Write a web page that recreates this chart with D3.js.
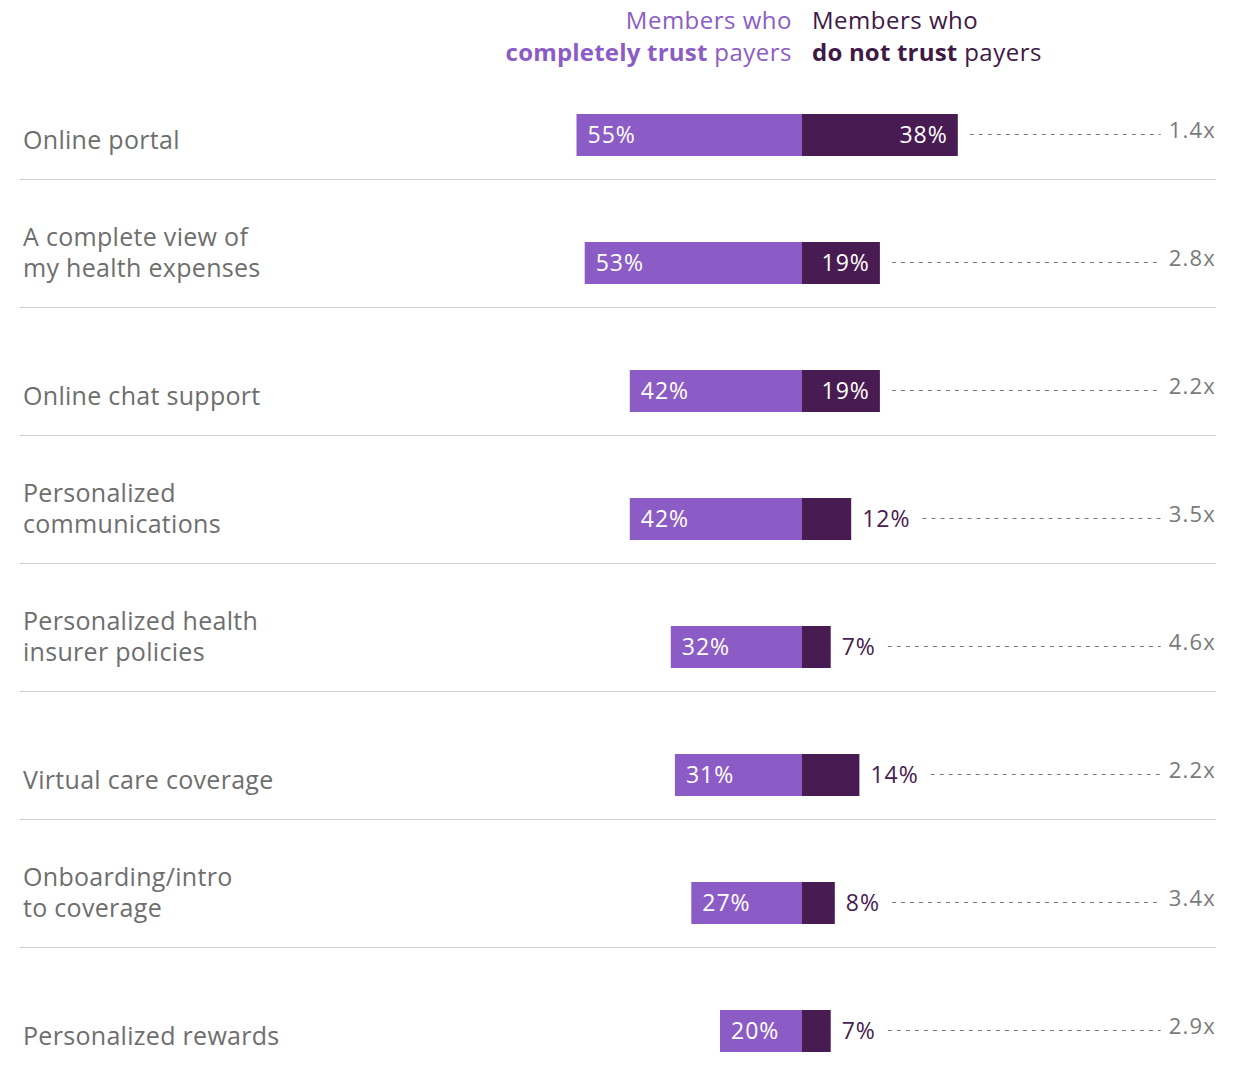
<!DOCTYPE html>
<html>
<head>
<meta charset="utf-8">
<script src="https://cdn.jsdelivr.net/npm/d3@7"></script>
<style>
  html, body { margin: 0; padding: 0; background: #fff; }
  svg { display: block; font-family: "Open Sans", "Noto Sans", sans-serif; }
</style>
</head>
<body>
<svg id="chart" width="1233" height="1070"></svg>
<script>
// Feature categories (label lines)
const categories = [
  ["Online portal"],
  ["A complete view of", "my health expenses"],
  ["Online chat support"],
  ["Personalized", "communications"],
  ["Personalized health", "insurer policies"],
  ["Virtual care coverage"],
  ["Onboarding/intro", "to coverage"],
  ["Personalized rewards"]
];
// Share of members who completely trust payers (%)
const trustValues = [55, 53, 42, 42, 32, 31, 27, 20];
// Share of members who do not trust payers (%)
const noTrustValues = [38, 19, 19, 12, 7, 14, 8, 7];
// Ratio labels
const ratios = ["1.4x", "2.8x", "2.2x", "3.5x", "4.6x", "2.2x", "3.4x", "2.9x"];

const LIGHT = "#8c5cc6";
const DARK = "#481b52";
const GRAY = "#6e6e6e";

const svg = d3.select("#chart");

// Bars diverge from a shared baseline
const x = d3.scaleLinear().domain([0, 100]).range([802, 1212]);
const xl = d3.scaleLinear().domain([0, 100]).range([802, 392]);

const rows = d3.range(categories.length);
const y = d3.scaleBand().domain(rows).range([71, 71 + 128 * rows.length]).paddingInner(0).paddingOuter(0);
const barH = 42;
const cy = i => y(i) + y.bandwidth() / 2;

// Header
const head = svg.append("g").attr("font-size", 24).attr("letter-spacing", 0.5);
const hl = head.append("text").attr("x", 792).attr("text-anchor", "end").attr("fill", LIGHT);
hl.append("tspan").attr("x", 792).attr("y", 29).text("Members who");
const hl2 = hl.append("tspan").attr("x", 792).attr("y", 61);
hl2.append("tspan").attr("font-weight", 700).attr("letter-spacing", 0.2).text("completely trust");
hl2.append("tspan").text(" payers");
const hr = head.append("text").attr("x", 812).attr("fill", "#3e1946");
hr.append("tspan").attr("x", 812).attr("y", 29).text("Members who");
const hr2 = hr.append("tspan").attr("x", 812).attr("y", 61);
hr2.append("tspan").attr("font-weight", 700).attr("letter-spacing", 0.2).text("do not trust");
hr2.append("tspan").text(" payers");

// Row separators
svg.append("g").selectAll("line")
  .data(rows.slice(0, -1))
  .join("line")
  .attr("x1", 20).attr("x2", 1216)
  .attr("y1", i => y(i) + y.bandwidth() - 20 + 0.5)
  .attr("y2", i => y(i) + y.bandwidth() - 20 + 0.5)
  .attr("stroke", "#cfcfcf").attr("stroke-width", 1.2);

const row = svg.append("g").selectAll("g").data(rows).join("g");

// Category labels, bottom line aligned just below the bar centre
row.append("text")
  .attr("font-size", 25)
  .attr("letter-spacing", 0.3)
  .attr("fill", GRAY)
  .each(function(i) {
    const lines = categories[i];
    const t = d3.select(this);
    lines.forEach((ln, k) => {
      t.append("tspan")
        .attr("x", 23)
        .attr("y", cy(i) + 14 - (lines.length - 1 - k) * 31)
        .text(ln);
    });
  });

// Trust bars (left)
row.append("rect")
  .attr("x", i => xl(trustValues[i]))
  .attr("y", i => cy(i) - barH / 2)
  .attr("width", i => xl(0) - xl(trustValues[i]))
  .attr("height", barH)
  .attr("fill", LIGHT);

// No-trust bars (right)
row.append("rect")
  .attr("x", x(0))
  .attr("y", i => cy(i) - barH / 2)
  .attr("width", i => x(noTrustValues[i]) - x(0))
  .attr("height", barH)
  .attr("fill", DARK);

// Left value labels
row.append("text")
  .attr("x", i => xl(trustValues[i]) + 11)
  .attr("y", i => cy(i) + 8)
  .attr("font-size", 23)
  .attr("letter-spacing", 1)
  .attr("fill", "#fff")
  .text(i => trustValues[i] + "%");

// Right value labels: inside when the bar has room, else after it
const rightLabels = row.append("text")
  .attr("y", i => cy(i) + 8)
  .attr("font-size", 23)
  .attr("letter-spacing", 1)
  .text(i => noTrustValues[i] + "%");

const labelEnd = [];
rightLabels.each(function(i) {
  const t = d3.select(this);
  const w = this.getComputedTextLength();
  const barW = x(noTrustValues[i]) - x(0);
  if (barW >= w + 16) {
    t.attr("x", x(noTrustValues[i]) - 10).attr("text-anchor", "end").attr("fill", "#fff");
    labelEnd[i] = x(noTrustValues[i]);
  } else {
    t.attr("x", x(noTrustValues[i]) + 11).attr("fill", DARK).attr("font-weight", 500);
    labelEnd[i] = x(noTrustValues[i]) + 11 + this.getComputedTextLength();
  }
});

// Ratio labels
const ratioText = row.append("text")
  .attr("x", 1216)
  .attr("y", i => cy(i) + 3)
  .attr("text-anchor", "end")
  .attr("font-size", 22)
  .attr("letter-spacing", 1.2)
  .attr("fill", "#7a7a7a")
  .text(i => ratios[i]);

// Dotted leaders between value and ratio
ratioText.each(function(i) {
  const w = this.getComputedTextLength();
  d3.select(this.parentNode).append("line")
    .attr("x1", labelEnd[i] + 12)
    .attr("x2", 1216 - w - 8)
    .attr("y1", cy(i) - 0.5)
    .attr("y2", cy(i) - 0.5)
    .attr("stroke", "#7a7a7a")
    .attr("stroke-width", 1)
    .attr("stroke-dasharray", "4,5");
});
</script>
</body>
</html>
